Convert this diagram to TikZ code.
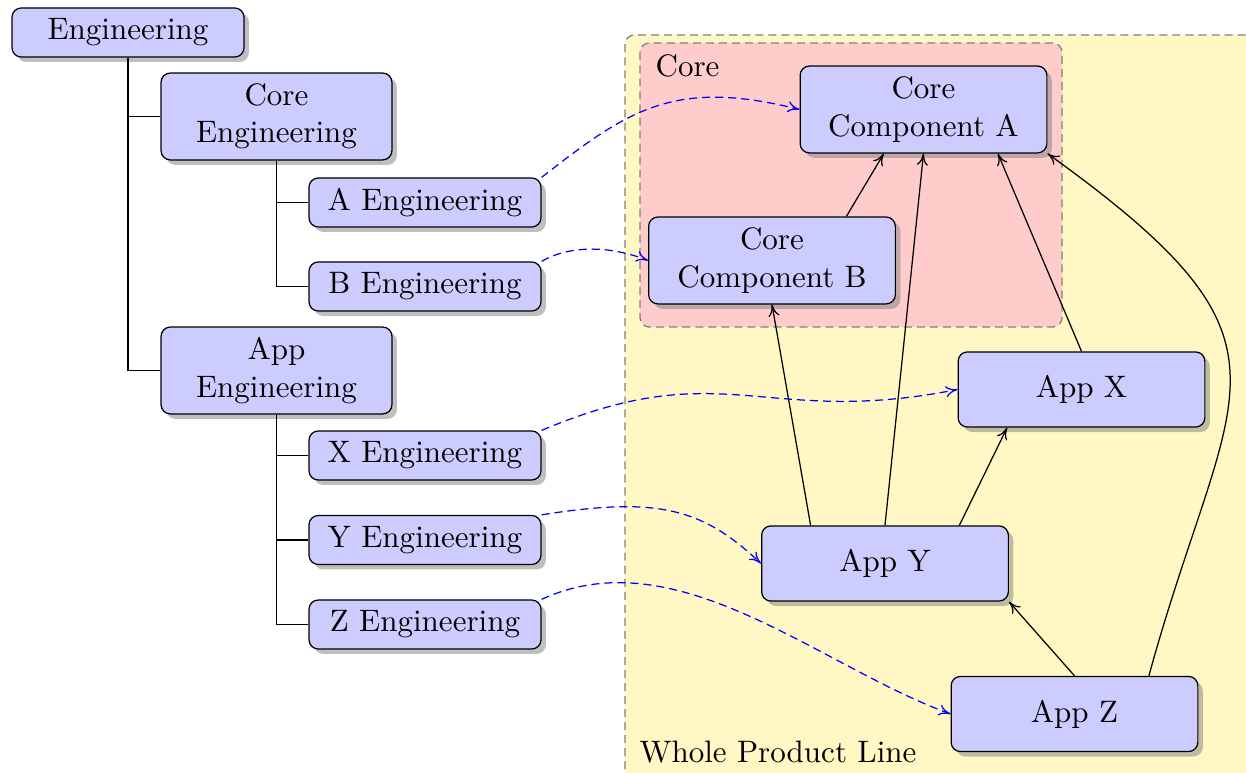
\documentclass[tikz,border=0pt]{standalone}
\usetikzlibrary{shadows,calc,arrows.meta}
\definecolor{wplfill}{RGB}{255,248,196}
\begin{document}
\begin{tikzpicture}[x=0.3222pt,y=-0.3222pt, >={To[length=3.8pt,width=3.6pt]},
  box/.style={draw, fill=blue!20, rounded corners=3pt, align=center, inner sep=2pt,
    drop shadow={shadow xshift=1.6pt,shadow yshift=-1.6pt}},
  engbox/.style={box, minimum width=74.75pt, minimum height=15.8pt},
  grpbox/.style={box, minimum width=74.4pt, minimum height=28pt},
  compbox/.style={box, minimum width=79.5pt, minimum height=28pt},
  appbox/.style={box, minimum width=79.5pt, minimum height=24.2pt},
  region/.style={draw=gray, dash pattern=on 2.6pt off 1.6pt, rounded corners=3pt},
  tree/.style={draw, line width=0.4pt},
  dep/.style={->},
  resp/.style={->, blue, dash pattern=on 2.6pt off 1.6pt}]
\useasboundingbox (0,0) rectangle (1246,773);
% regions
\path[region, fill=wplfill] (625,35) rectangle (1260,790);
\path[region, fill=red!20] (640,43) rectangle (1062,327);
\node[anchor=base west, inner sep=0pt] (corelbl) at (655,77) {Core};
\node[anchor=base west, inner sep=0pt] (wpllbl) at (639,763) {Whole Product Line};
% left tree
\node[engbox] (eng) at (128,32.5) {Engineering};
\node[grpbox] (coreeng) at (276.5,116.5) {Core\\Engineering};
\node[engbox] (aeng) at (425,202.5) {A Engineering};
\node[engbox] (beng) at (425,286.5) {B Engineering};
\node[grpbox] (appeng) at (276.5,370.5) {App\\Engineering};
\node[engbox] (xeng) at (425,455.5) {X Engineering};
\node[engbox] (yeng) at (425,540) {Y Engineering};
\node[engbox] (zeng) at (425,624.5) {Z Engineering};
\draw[tree] (eng.south) |- (coreeng.west);
\draw[tree] (eng.south) |- (appeng.west);
\draw[tree] (coreeng.south) |- (aeng.west);
\draw[tree] (coreeng.south) |- (beng.west);
\draw[tree] (appeng.south) |- (xeng.west);
\draw[tree] (appeng.south) |- (yeng.west);
\draw[tree] (appeng.south) |- (zeng.west);
% components
\node[compbox] (cca) at (923.5,109.5) {Core\\Component A};
\node[compbox] (ccb) at (772,260.5) {Core\\Component B};
\node[appbox] (appx) at (1081.5,389.5) {App X};
\node[appbox] (appy) at (885,563.5) {App Y};
\node[appbox] (appz) at (1074.5,714) {App Z};
% anchor points
\coordinate (ccbT) at ($(ccb.north west)!0.8!(ccb.north east)$);
\coordinate (ccaB1) at ($(cca.south west)!0.34!(cca.south east)$);
\coordinate (ccaB2) at ($(cca.south west)!0.8!(cca.south east)$);
\coordinate (appyT1) at ($(appy.north west)!0.2!(appy.north east)$);
\coordinate (appyT2) at ($(appy.north west)!0.8!(appy.north east)$);
\coordinate (appxB) at ($(appx.south west)!0.2!(appx.south east)$);
\coordinate (appzT) at ($(appz.north west)!0.8!(appz.north east)$);
% dependencies
\draw[dep] (ccbT) -- (ccaB1);
\draw[dep] (appyT1) -- (ccb.south);
\draw[dep] (appy.north) -- (cca.south);
\draw[dep] (appyT2) -- (appxB);
\draw[dep] (appx.north) -- (ccaB2);
\draw[dep] (appz.north) -- (appy.south east);
\draw[dep] (appzT) .. controls (1230,380) and (1318,348) .. (cca.south east);
% responsibilities
\draw[resp] (aeng.north east) .. controls (628,110) and (674,78) .. (cca.west);
\draw[resp] (beng.north east) .. controls (571,244.5) and (611,246) .. (ccb.west);
\draw[resp] (xeng.north east) .. controls (725,353) and (762,428) .. (appx.west);
\draw[resp] (yeng.north east) .. controls (659,496) and (703,509) .. (appy.west);
\draw[resp] (zeng.north east) .. controls (677,537) and (819,666) .. (appz.west);
\end{tikzpicture}
\end{document}
